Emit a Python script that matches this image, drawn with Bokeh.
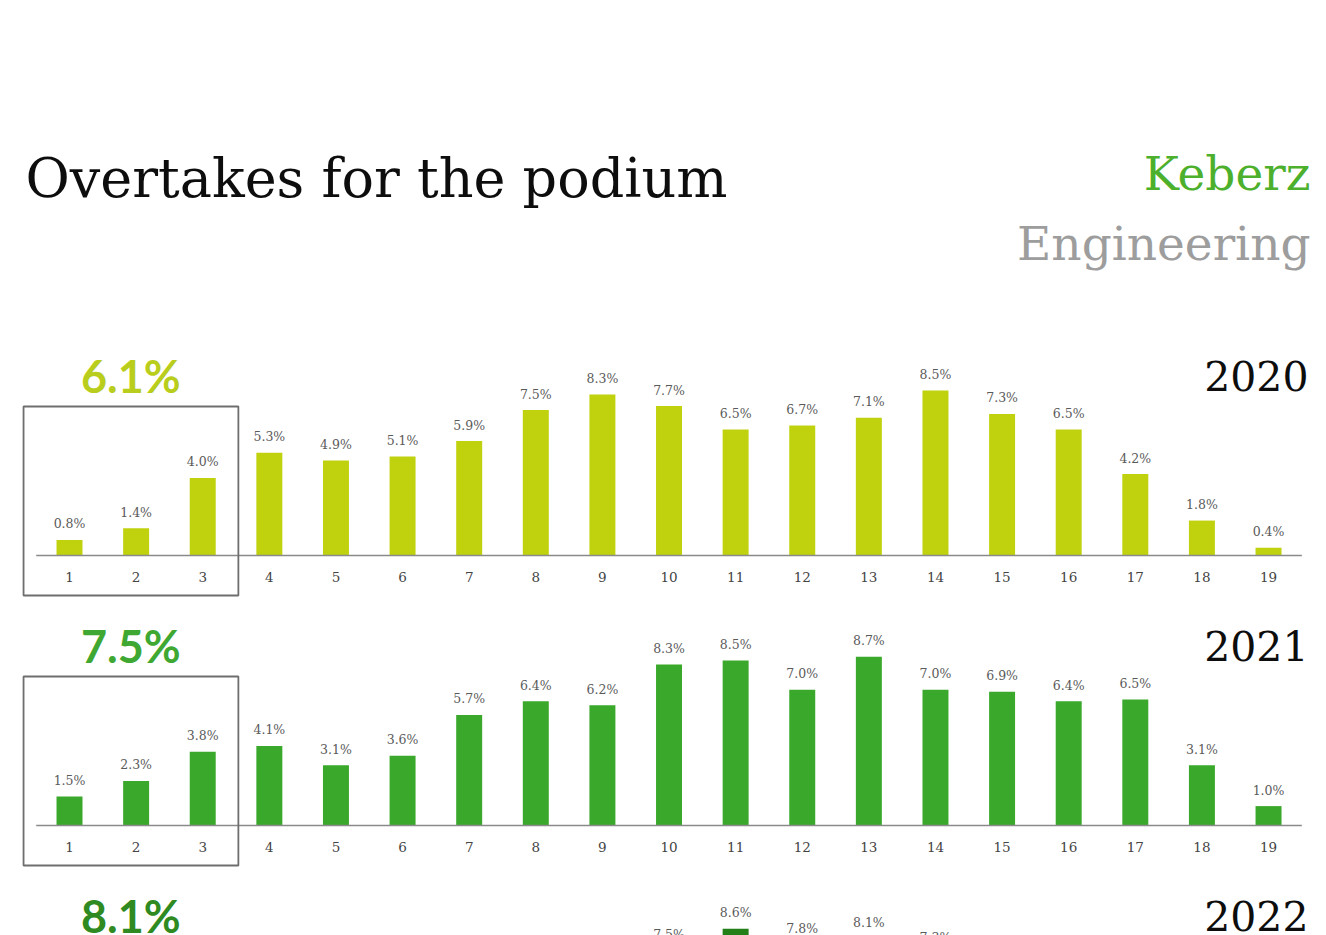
from bokeh.plotting import figure
from bokeh.layouts import column
from bokeh.models import Range1d, ColumnDataSource
from bokeh.core.properties import value
from bokeh.embed import file_html
from bokeh.resources import INLINE

# ---------------- data ----------------
title = "Overtakes for the podium"
brand_top = "Keberz"
brand_bottom = "Engineering"

positions = list(range(1, 20))
tick_labels = [str(i) for i in positions]

years = ["2020", "2021", "2022"]
podium_share = ["6.1%", "7.5%", "8.1%"]

values_2020 = [0.8, 1.4, 4.0, 5.3, 4.9, 5.1, 5.9, 7.5, 8.3, 7.7,
               6.5, 6.7, 7.1, 8.5, 7.3, 6.5, 4.2, 1.8, 0.4]
values_2021 = [1.5, 2.3, 3.8, 4.1, 3.1, 3.6, 5.7, 6.4, 6.2, 8.3,
               8.5, 7.0, 8.7, 7.0, 6.9, 6.4, 6.5, 3.1, 1.0]
positions_2022 = [10, 11, 12, 13, 14]
values_2022 = [7.5, 8.6, 7.8, 8.1, 7.3]

# ---------------- styling ----------------
W = 1310
PX = 1 / 19.4          # percent per pixel
SERIF = value("DejaVu Serif")
SANS = value("Lato")
X_RANGE = (-0.036, 19.63)

bar_colors = ["#c0d20e", "#3aa92b", "#237f17"]
share_colors = ["#b9cd1c", "#3fa832", "#2e8a21"]


def base_fig(height, y0, y1):
    p = figure(width=W, height=height, x_range=Range1d(*X_RANGE),
               y_range=Range1d(y0, y1), x_axis_type=None, y_axis_type=None,
               output_backend="svg", toolbar_location=None, min_border=0,
               outline_line_color=None, background_fill_color="white",
               border_fill_color="white")
    p.grid.visible = False
    return p


def panel(xs, vals, year, share, bar_color, share_color, height, y0, y1, full=True):
    p = base_fig(height, y0, y1)
    src = ColumnDataSource(dict(x=xs, top=vals,
                                lab=[f"{v:.1f}%" for v in vals],
                                ly=[v + 16 * PX for v in vals]))
    p.vbar(x="x", top="top", bottom=0, width=0.39, source=src,
           fill_color=bar_color, line_color=None)
    p.text(x="x", y="ly", text="lab", source=src, text_font=SERIF,
           text_font_size="12.5px", text_color="#5a5a5a",
           text_align="center", text_baseline="middle")
    if full:
        p.segment(x0=[0.5], y0=[0], x1=[19.5], y1=[0], line_color="#8a8a8a", line_width=1.6)
        p.text(x=positions, y=[-21 * PX] * len(positions), text=tick_labels,
               text_font=SERIF, text_font_size="13.5px", text_color="#444444",
               text_align="center", text_baseline="middle")
        p.quad(left=[0.31], right=[3.535], bottom=[-40 * PX], top=[149 * PX],
               fill_color=None, line_color="#6e6e6e", line_width=1.8)
    p.text(x=[1.92], y=[180 * PX], text=[share], text_font=SANS,
           text_font_size="45px", text_font_style="bold", text_color=share_color,
           text_align="center", text_baseline="middle")
    p.text(x=[19.6], y=[180 * PX], text=[year], text_font=SERIF,
           text_font_size="41px", text_color="#0d0d0d",
           text_align="right", text_baseline="middle")
    return p


# header
HH = 327
head = base_fig(HH, HH, 0)
head.x_range = Range1d(0, W)
head.text(x=[25], y=[178], text=[title], text_font=SERIF, text_font_size="54px",
          text_color="#0d0d0d", text_align="left", text_baseline="alphabetic")
head.text(x=[1310], y=[173], text=[brand_top], text_font=SERIF, text_font_size="47px",
          text_color="#4cb02c", text_align="right", text_baseline="alphabetic")
head.text(x=[1310], y=[243], text=[brand_bottom], text_font=SERIF, text_font_size="47px",
          text_color="#9d9d9d", text_align="right", text_baseline="alphabetic")

p2020 = panel(positions, values_2020, years[0], podium_share[0], bar_colors[0],
              share_colors[0], 270, -42 * PX, 228 * PX)
p2021 = panel(positions, values_2021, years[1], podium_share[1], bar_colors[1],
              share_colors[1], 270, -42 * PX, 228 * PX)
p2022 = panel(positions_2022, values_2022, years[2], podium_share[2], bar_colors[2],
              share_colors[2], 68, 160 * PX, 228 * PX, full=False)

layout = column(head, p2020, p2021, p2022, spacing=0)

open("out.html", "w").write(file_html(layout, INLINE))
